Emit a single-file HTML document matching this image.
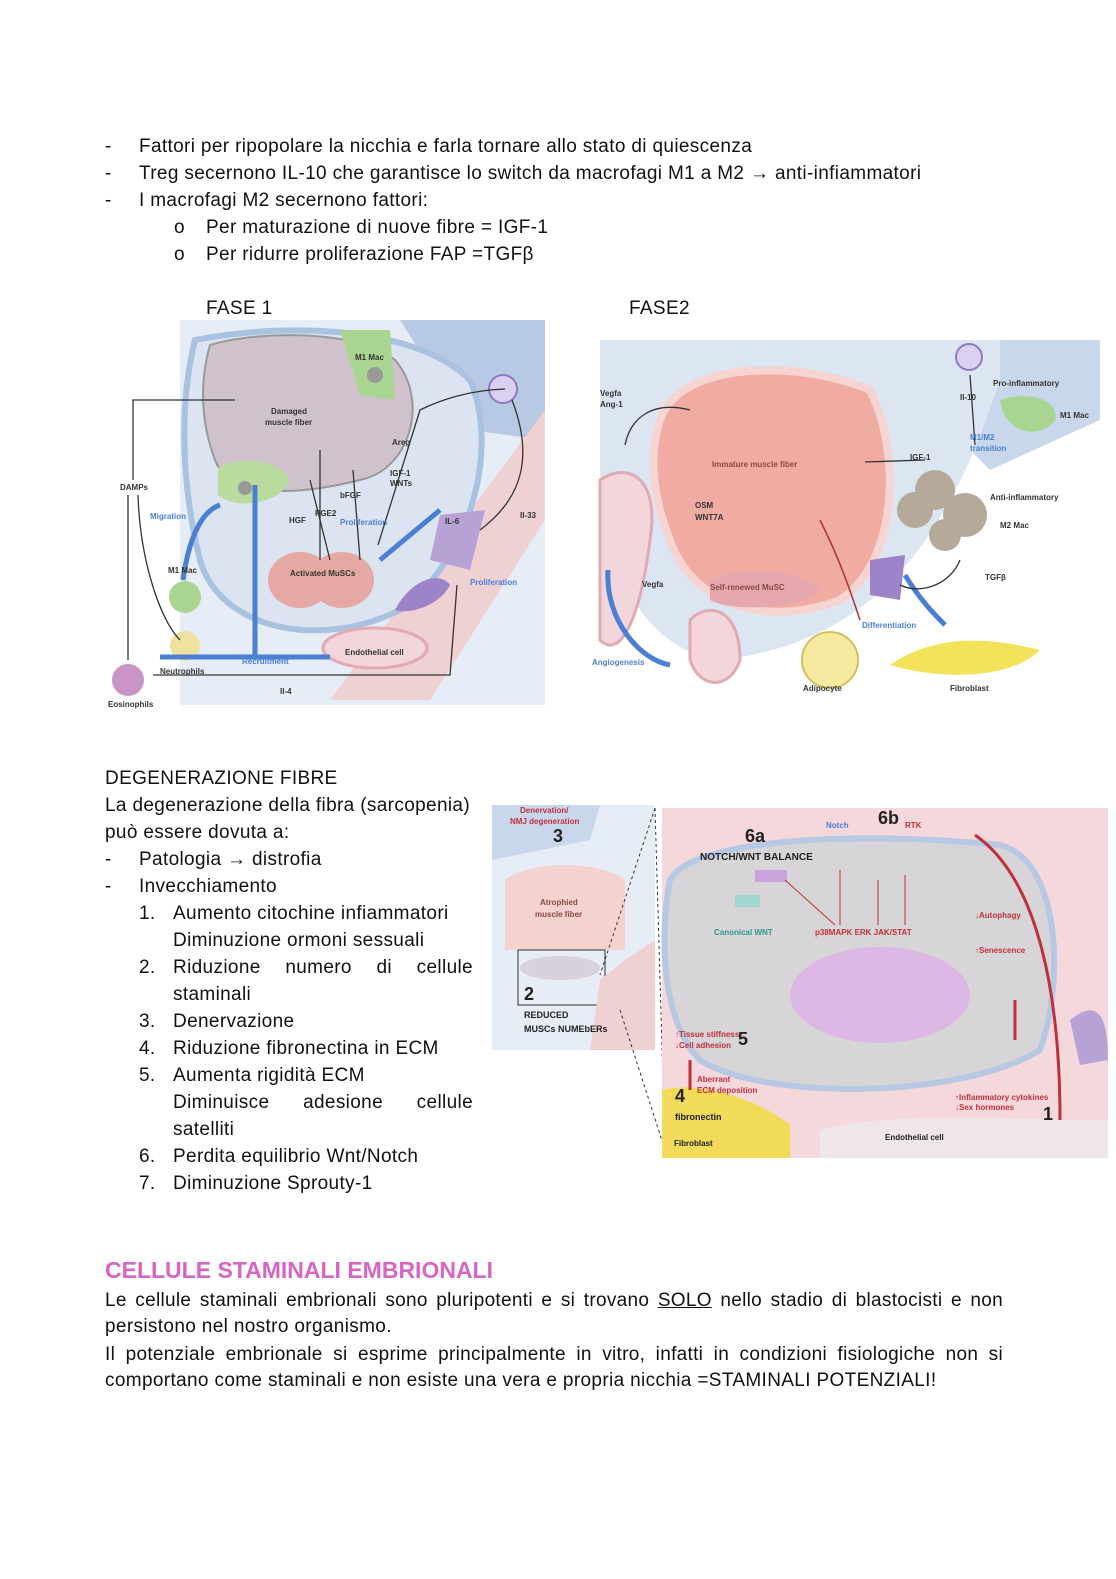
<!DOCTYPE html>
<html><head><meta charset="utf-8">
<style>
body{margin:0;background:#fff;width:1116px;height:1579px;position:relative;overflow:hidden;font-family:"Liberation Sans",sans-serif;color:#111}
.t{position:absolute;font-size:19px;letter-spacing:0.35px;white-space:nowrap;line-height:22px;margin-top:2px}
.j{position:absolute;font-size:19px;letter-spacing:0.3px;line-height:27px;left:105px;width:898px;text-align:justify;text-align-last:justify;white-space:nowrap;margin-top:2px}
svg{position:absolute;left:0;top:0}
svg text{font-family:"Liberation Sans",sans-serif;font-weight:bold;letter-spacing:0}
</style></head><body>
<div class="t" style="left:105px;top:134px">-</div><div class="t" style="left:139px;top:134px">Fattori per ripopolare la nicchia e farla tornare allo stato di quiescenza</div>
<div class="t" style="left:105px;top:161px">-</div><div class="t" style="left:139px;top:161px">Treg secernono IL-10 che garantisce lo switch da macrofagi M1 a M2 → anti-infiammatori</div>
<div class="t" style="left:105px;top:188px">-</div><div class="t" style="left:139px;top:188px">I macrofagi M2 secernono fattori:</div>
<div class="t" style="left:174px;top:215px">o</div><div class="t" style="left:206px;top:215px">Per maturazione di nuove fibre = IGF-1</div>
<div class="t" style="left:174px;top:242px">o</div><div class="t" style="left:206px;top:242px">Per ridurre proliferazione FAP =TGFβ</div>
<div class="t" style="left:206px;top:296px">FASE 1</div>
<div class="t" style="left:629px;top:296px">FASE2</div>

<svg width="1116" height="1579" viewBox="0 0 1116 1579">
<!-- FIG 1 -->
<rect x="180" y="320" width="365" height="385" fill="#e6edf6"/>
<path d="M400 320 L545 320 L545 440 L470 430 Z" fill="#b8c9e4"/>
<path d="M545 410 L545 520 L430 700 L330 700 Z" fill="#efd0d3"/>
<path d="M195 340 C300 320 420 330 470 380 C500 450 470 560 400 610 C320 650 220 630 200 560 C180 480 180 400 195 340Z" fill="#dbe4f0" stroke="#a8c2e0" stroke-width="6"/>
<path d="M210 345 C260 330 360 330 395 360 C430 400 410 470 360 480 C300 495 230 500 215 460 C200 420 200 380 210 345Z" fill="#cfc2cd" stroke="#999" stroke-width="2"/>
<path d="M340 330 L390 330 L395 400 L360 395 Z" fill="#a9d590"/>
<circle cx="375" cy="375" r="8" fill="#999"/>
<path d="M218 468 C240 455 280 460 290 480 C280 505 235 510 218 495Z" fill="#b9dc9e"/>
<circle cx="245" cy="488" r="7" fill="#999"/>
<circle cx="503" cy="389" r="14" fill="#dcd0f0" stroke="#8d7bc0" stroke-width="2"/>
<ellipse cx="300" cy="580" rx="32" ry="28" fill="#e6a8a4"/><ellipse cx="342" cy="580" rx="32" ry="28" fill="#e6a8a4"/>
<path d="M440 515 L485 510 L470 570 L430 560Z" fill="#b7a2d6"/>
<path d="M395 610 C410 580 440 570 450 585 C440 605 410 615 395 610Z" fill="#9d83c8"/>
<ellipse cx="375" cy="648" rx="52" ry="20" fill="#f3d6dc" stroke="#e0aab3" stroke-width="3"/>
<circle cx="185" cy="597" r="16" fill="#a9d590"/>
<circle cx="185" cy="646" r="15" fill="#efe2a0"/>
<circle cx="128" cy="680" r="16" fill="#c995c8"/>
<g fill="none" stroke="#333" stroke-width="1.3">
<path d="M235 400 L133 400 L133 480"/><path d="M128 495 L128 660"/><path d="M138 495 C140 560 160 620 180 640"/>
<path d="M153 675 L450 675 L457 585"/><path d="M505 389 C470 390 440 400 420 410 L378 545"/><path d="M512 400 C535 460 520 500 480 530"/>
<path d="M320 450 L320 560"/><path d="M310 480 L330 560"/><path d="M353 470 L360 560"/>
</g>
<g fill="none" stroke="#4a7fd4" stroke-width="5">
<path d="M183 580 C190 530 205 510 220 505"/><path d="M330 657 L160 657"/><path d="M255 657 L255 485"/><path d="M380 560 L440 510"/>
</g>
<g font-size="8" fill="#333"><text x="120" y="490">DAMPs</text><text x="271" y="414">Damaged</text><text x="265" y="425">muscle fiber</text><text x="355" y="360">M1 Mac</text><text x="392" y="445">Areg</text><text x="390" y="476">IGF-1</text><text x="390" y="486">WNTs</text><text x="340" y="498">bFGF</text><text x="315" y="516">PGE2</text><text x="289" y="523">HGF</text><text x="445" y="524">IL-6</text><text x="520" y="518">Il-33</text><text x="168" y="573">M1 Mac</text><text x="160" y="674">Neutrophils</text><text x="345" y="655">Endothelial cell</text><text x="290" y="576">Activated MuSCs</text><text x="280" y="694">Il-4</text><text x="108" y="707">Eosinophils</text>
<text x="150" y="519" fill="#4a7fd4">Migration</text><text x="340" y="525" fill="#4a7fd4">Proliferation</text><text x="470" y="585" fill="#4a7fd4">Proliferation</text><text x="242" y="664" fill="#4a7fd4">Recruitment</text></g>

<!-- FIG 2 -->
<path d="M660 340 L1100 340 L1100 420 L990 470 L940 420 L870 340Z" fill="#c9d7ec"/>
<path d="M600 340 L1000 340 L1000 380 C960 500 900 640 720 660 C640 650 600 560 600 460Z" fill="#dce6f2"/>
<path d="M660 420 C680 360 800 360 870 390 C900 450 900 560 840 600 C760 630 690 600 670 540 C650 490 650 450 660 420Z" fill="#f0aba3" stroke="#f5d4d2" stroke-width="8"/>
<path d="M710 580 C740 565 800 570 820 590 C800 610 730 612 710 600Z" fill="#e4a8ae"/>
<path d="M600 480 C630 460 660 480 650 540 C640 620 620 660 600 640Z" fill="#f3d6dc" stroke="#e0aab3" stroke-width="3"/>
<path d="M690 620 C710 600 740 610 740 660 C730 690 700 690 690 660Z" fill="#f3d6dc" stroke="#e0aab3" stroke-width="3"/>
<circle cx="969" cy="357" r="13" fill="#dcd0f0" stroke="#8d7bc0" stroke-width="2"/>
<path d="M1000 400 C1030 390 1060 400 1055 420 C1040 440 1005 435 1000 400Z" fill="#a9d590"/>
<g fill="#b5a999"><circle cx="935" cy="490" r="20"/><circle cx="965" cy="515" r="22"/><circle cx="915" cy="510" r="18"/><circle cx="945" cy="535" r="16"/></g>
<path d="M870 560 L905 555 L900 600 L870 595Z" fill="#9d83c8"/>
<circle cx="830" cy="660" r="28" fill="#f6eaa0" stroke="#d4c060" stroke-width="2"/>
<path d="M890 665 C940 630 1000 640 1040 650 C1010 680 940 680 890 665Z" fill="#f3e35a"/>
<g fill="none" stroke="#4a7fd4" stroke-width="5"><path d="M608 570 C605 620 640 660 670 665"/><path d="M905 575 C920 600 935 615 945 625"/></g>
<g fill="none" stroke="#333" stroke-width="1.3"><path d="M970 375 L975 445"/><path d="M925 460 L865 462"/><path d="M960 560 C950 585 920 595 900 585"/><path d="M690 410 C650 400 630 420 625 445"/></g>
<path d="M820 520 C840 560 850 590 860 620" fill="none" stroke="#b03030" stroke-width="1.5"/>
<g font-size="8" fill="#333"><text x="600" y="396">Vegfa</text><text x="600" y="407">Ang-1</text><text x="993" y="386">Pro-inflammatory</text><text x="1060" y="418">M1 Mac</text><text x="960" y="400">Il-10</text><text x="970" y="440" fill="#4a7fd4">M1/M2</text><text x="970" y="451" fill="#4a7fd4">transition</text><text x="910" y="460">IGF-1</text><text x="990" y="500">Anti-inflammatory</text><text x="1000" y="528">M2 Mac</text><text x="985" y="580">TGFβ</text><text x="712" y="467" fill="#8a4a44">Immature muscle fiber</text><text x="695" y="508">OSM</text><text x="695" y="520">WNT7A</text><text x="642" y="587">Vegfa</text><text x="710" y="590" fill="#8a4a44">Self-renewed MuSC</text><text x="862" y="628" fill="#4a7fd4">Differentiation</text><text x="592" y="665" fill="#4a7fd4">Angiogenesis</text><text x="803" y="691">Adipocyte</text><text x="950" y="691">Fibroblast</text></g>

<!-- FIG 3 -->
<rect x="492" y="805" width="163" height="245" fill="#e6edf6"/>
<path d="M492 805 L600 805 L590 840 L492 860Z" fill="#c9d7ec"/>
<path d="M505 880 C530 860 600 860 625 880 L625 950 L505 950Z" fill="#f3d2d0"/>
<ellipse cx="560" cy="968" rx="40" ry="12" fill="#d8d0dd"/>
<rect x="518" y="950" width="87" height="55" fill="none" stroke="#333" stroke-width="1"/>
<path d="M600 980 L625 960 L655 940 L655 1050 L590 1050Z" fill="#efd0d3"/>
<path d="M655 808 L665 1150 M655 808 L600 975 M620 1010 L665 1150" stroke="#333" stroke-dasharray="3,3" fill="none"/>
<rect x="662" y="808" width="446" height="350" fill="#f5d8dc"/>
<path d="M670 880 C690 840 850 830 1000 845 C1060 860 1065 980 1040 1050 C960 1100 760 1100 700 1060 C660 1020 660 930 670 880Z" fill="#d7d5d7" stroke="#b7c9e2" stroke-width="6"/>
<ellipse cx="880" cy="995" rx="90" ry="48" fill="#ddb8e4"/>
<path d="M662 1090 C700 1080 760 1100 790 1125 L790 1158 L662 1158Z" fill="#f2da5a"/>
<path d="M820 1130 C900 1110 1000 1120 1108 1120 L1108 1158 L820 1158Z" fill="#efe6ea"/>
<path d="M1070 1020 C1095 1000 1108 1010 1108 1060 L1080 1065Z" fill="#b7a2d6"/>
<path d="M1060 1120 C1060 1000 1040 880 975 835" fill="none" stroke="#c0303a" stroke-width="3"/>
<path d="M690 1090 L690 1060" fill="none" stroke="#c0303a" stroke-width="3"/>
<path d="M1015 1040 L1015 1000" fill="none" stroke="#c0303a" stroke-width="3"/>
<rect x="755" y="870" width="32" height="12" fill="#c9a3dc"/>
<rect x="735" y="895" width="25" height="12" fill="#9fd6cf"/>
<g fill="none" stroke="#c03030" stroke-width="1"><path d="M785 880 L835 925"/><path d="M840 870 L840 925"/><path d="M878 880 L878 925"/><path d="M905 875 L905 925"/></g>
<g font-size="9" fill="#222"><text x="745" y="842" font-size="18">6a</text><text x="878" y="824" font-size="18">6b</text><text x="553" y="842" font-size="18">3</text><text x="524" y="1000" font-size="18">2</text><text x="675" y="1102" font-size="18">4</text><text x="738" y="1045" font-size="18">5</text><text x="1043" y="1120" font-size="18">1</text>
<text x="700" y="860" font-size="10">NOTCH/WNT BALANCE</text><text x="524" y="1018">REDUCED</text><text x="524" y="1032">MUSCs NUMEbERs</text><text x="675" y="1120">fibronectin</text>
<text x="520" y="813" fill="#c0303a" font-size="8">Denervation/</text><text x="510" y="824" fill="#c0303a" font-size="8">NMJ degeneration</text><text x="540" y="905" fill="#8a4a44" font-size="8">Atrophied</text><text x="535" y="917" fill="#8a4a44" font-size="8">muscle fiber</text>
<text x="714" y="935" fill="#2b9a8a" font-size="8">Canonical WNT</text><text x="815" y="935" fill="#c0303a" font-size="8">p38MAPK  ERK  JAK/STAT</text><text x="975" y="918" fill="#c0303a" font-size="8">↓Autophagy</text><text x="975" y="953" fill="#c0303a" font-size="8">↑Senescence</text><text x="675" y="1037" fill="#c0303a" font-size="8">↑Tissue stiffness</text><text x="675" y="1048" fill="#c0303a" font-size="8">↓Cell adhesion</text><text x="697" y="1082" fill="#c0303a" font-size="8">Aberrant</text><text x="697" y="1093" fill="#c0303a" font-size="8">ECM deposition</text><text x="955" y="1100" fill="#c0303a" font-size="8">↑Inflammatory cytokines</text><text x="955" y="1110" fill="#c0303a" font-size="8">↓Sex hormones</text><text x="674" y="1146" font-size="8">Fibroblast</text><text x="885" y="1140" font-size="8">Endothelial cell</text><text x="826" y="828" fill="#4a7fd4" font-size="8">Notch</text><text x="905" y="828" fill="#c0303a" font-size="8">RTK</text></g>
</svg>

<div class="t" style="left:105px;top:766px">DEGENERAZIONE FIBRE</div>
<div class="t" style="left:105px;top:793px">La degenerazione della fibra (sarcopenia)</div>
<div class="t" style="left:105px;top:820px">può essere dovuta a:</div>
<div class="t" style="left:105px;top:847px">-</div><div class="t" style="left:139px;top:847px">Patologia → distrofia</div>
<div class="t" style="left:105px;top:874px">-</div><div class="t" style="left:139px;top:874px">Invecchiamento</div>
<div class="t" style="left:139px;top:901px">1.</div><div class="t" style="left:173px;top:901px">Aumento citochine infiammatori</div>
<div class="t" style="left:173px;top:928px">Diminuzione ormoni sessuali</div>
<div class="t" style="left:139px;top:955px">2.</div><div class="t" style="left:173px;top:955px;width:300px;display:flex;justify-content:space-between"><span>Riduzione</span><span>numero</span><span>di</span><span>cellule</span></div>
<div class="t" style="left:173px;top:982px">staminali</div>
<div class="t" style="left:139px;top:1009px">3.</div><div class="t" style="left:173px;top:1009px">Denervazione</div>
<div class="t" style="left:139px;top:1036px">4.</div><div class="t" style="left:173px;top:1036px">Riduzione fibronectina in ECM</div>
<div class="t" style="left:139px;top:1063px">5.</div><div class="t" style="left:173px;top:1063px">Aumenta rigidità ECM</div>
<div class="t" style="left:173px;top:1090px;width:300px;display:flex;justify-content:space-between"><span>Diminuisce</span><span>adesione</span><span>cellule</span></div>
<div class="t" style="left:173px;top:1117px">satelliti</div>
<div class="t" style="left:139px;top:1144px">6.</div><div class="t" style="left:173px;top:1144px">Perdita equilibrio Wnt/Notch</div>
<div class="t" style="left:139px;top:1171px">7.</div><div class="t" style="left:173px;top:1171px">Diminuzione Sprouty-1</div>

<div class="t" style="left:105px;top:1255px;font-size:23px;letter-spacing:0;font-weight:bold;color:#d665c4;line-height:26px">CELLULE STAMINALI EMBRIONALI</div>
<div class="j" style="top:1285px">Le cellule staminali embrionali sono pluripotenti e si trovano <u>SOLO</u> nello stadio di blastocisti e non</div>
<div class="t" style="left:105px;top:1314px">persistono nel nostro organismo.</div>
<div class="j" style="top:1339px">Il potenziale embrionale si esprime principalmente in vitro, infatti in condizioni fisiologiche non si</div>
<div class="t" style="left:105px;top:1368px">comportano come staminali e non esiste una vera e propria nicchia =STAMINALI POTENZIALI!</div>
</body></html>
